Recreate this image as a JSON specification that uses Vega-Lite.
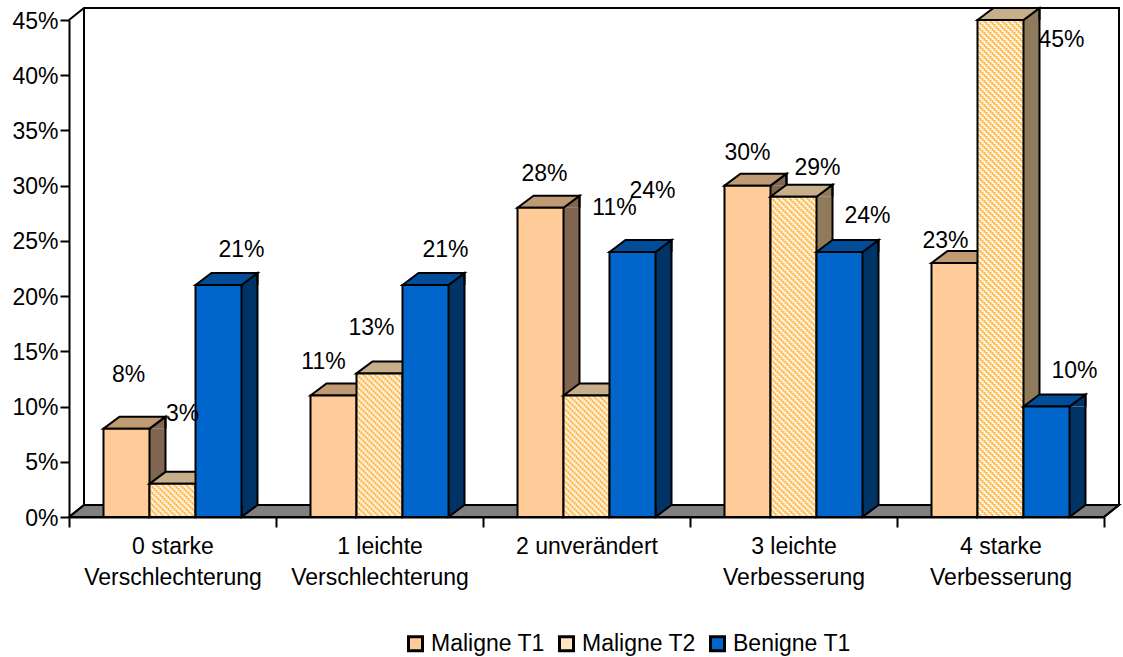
{"$schema":"https://vega.github.io/schema/vega-lite/v6.json","width":1035,"height":497,"autosize":"none","padding":{"left":69,"top":20,"right":19,"bottom":140},"background":"white","config":{"view":{"stroke":null},"font":"Liberation Sans"},
"data":{"values":[
{"cat":"0 starke|Verschlechterung","series":"Maligne T1","value":0.08},{"cat":"0 starke|Verschlechterung","series":"Maligne T2","value":0.03},{"cat":"0 starke|Verschlechterung","series":"Benigne T1","value":0.21},
{"cat":"1 leichte|Verschlechterung","series":"Maligne T1","value":0.11},{"cat":"1 leichte|Verschlechterung","series":"Maligne T2","value":0.13},{"cat":"1 leichte|Verschlechterung","series":"Benigne T1","value":0.21},
{"cat":"2 unverändert","series":"Maligne T1","value":0.28},{"cat":"2 unverändert","series":"Maligne T2","value":0.11},{"cat":"2 unverändert","series":"Benigne T1","value":0.24},
{"cat":"3 leichte|Verbesserung","series":"Maligne T1","value":0.30},{"cat":"3 leichte|Verbesserung","series":"Maligne T2","value":0.29},{"cat":"3 leichte|Verbesserung","series":"Benigne T1","value":0.24},
{"cat":"4 starke|Verbesserung","series":"Maligne T1","value":0.23},{"cat":"4 starke|Verbesserung","series":"Maligne T2","value":0.45},{"cat":"4 starke|Verbesserung","series":"Benigne T1","value":0.10}
]},
"encoding":{
"x":{"field":"cat","type":"nominal","sort":null,"scale":{"paddingInner":0,"paddingOuter":0},"axis":{"title":null,"labelAngle":0,"tickBand":"extent","tickSize":10,"tickWidth":2,"tickColor":"#000","domainColor":"#000","domainWidth":2,"labelFont":"Liberation Sans","labelFontSize":23,"labelColor":"#000","labelPadding":8,"labelLimit":400,"labelLineHeight":31,"labelOverlap":false,"labelExpr":"split(datum.label,'|')"}},
"xOffset":{"field":"series","type":"nominal","sort":null,"scale":{"domain":["Maligne T1","Maligne T2","Benigne T1"],"paddingInner":0,"paddingOuter":0.75}},
"y":{"field":"value","type":"quantitative","scale":{"domain":[0,0.45],"nice":false},"axis":{"title":null,"values":[0,0.05,0.1,0.15,0.2,0.25,0.3,0.35,0.4,0.45],"format":".0%","grid":false,"tickSize":9,"tickWidth":2,"tickColor":"#000","domainColor":"#000","domainWidth":2,"labelFont":"Liberation Sans","labelFontSize":23,"labelColor":"#000","labelPadding":2,"labelOffset":1}}
},
"layer":[
{"transform":[{"filter":"datum.cat=='0 starke|Verschlechterung'&&datum.series=='Maligne T1'"}],"layer":[
{"mark":{"type":"point","shape":"M-57.5,0L-42.5,-12L992.5,-12L977.5,0Z","size":4,"filled":true,"fill":"#808080","stroke":"#000","strokeWidth":2,"opacity":1},"encoding":{"y":{"datum":0}}},
{"mark":{"type":"point","shape":"M-57.5,-497L-42.5,-509L992.5,-509L992.5,-12L977.5,0M-42.5,-509L-42.5,-12L-57.5,0","size":4,"filled":false,"stroke":"#000","strokeWidth":2,"opacity":1},"encoding":{"y":{"datum":0}}}
]},
{"transform":[{"filter":"datum.series=='Maligne T1'"}],"layer":[
{"mark":{"type":"rule","strokeWidth":16,"y2Offset":-12,"stroke":"#806650"},"encoding":{"y2":{"datum":0},"xOffset":null,"x":{"field":"cat","type":"nominal","sort":null,"bandPosition":0.42754}}},
{"mark":{"type":"point","shape":"M23,0L39,-12L39,0","size":4,"filled":true,"fill":"#806650","stroke":"#000","strokeWidth":2,"opacity":1}},
{"mark":{"type":"point","shape":"M23,-12L23,0L39,-12","size":4,"filled":true,"fill":"#806650","stroke":"#000","strokeWidth":2,"opacity":1},"encoding":{"y":{"datum":0}}},
{"mark":{"type":"rule","yOffset":-12,"y2Offset":-12,"stroke":"#000","strokeWidth":2},"encoding":{"y2":{"datum":0},"xOffset":null,"x":{"field":"cat","type":"nominal","sort":null,"bandPosition":0.46618}}},
{"mark":{"type":"point","shape":"M-23,0L-7,-12L39,-12L23,0Z","size":4,"filled":true,"fill":"#C09A73","stroke":"#000","strokeWidth":2,"opacity":1}},
{"mark":{"type":"bar","stroke":"#000","strokeWidth":2},"encoding":{"y2":{"datum":0},"fill":{"field":"series","type":"nominal","scale":{"domain":["Maligne T1","Maligne T2","Benigne T1"],"range":["#FFCC99","#FFE6BF","#0066CC"]},"legend":{"title":null,"orient":"none","legendX":335,"legendY":612,"padding":0,"direction":"horizontal","symbolType":"square","symbolSize":196,"symbolStrokeColor":"#000","symbolStrokeWidth":3,"labelFont":"Liberation Sans","labelFontSize":23,"labelColor":"#000","labelOffset":4,"columnPadding":8,"labelLimit":300}}}}
]},
{"transform":[{"filter":"datum.series=='Maligne T2'"}],"layer":[
{"mark":{"type":"rule","strokeWidth":16,"y2Offset":-12,"stroke":"#8F7A5C"},"encoding":{"y2":{"datum":0},"xOffset":null,"x":{"field":"cat","type":"nominal","sort":null,"bandPosition":0.64976}}},
{"mark":{"type":"point","shape":"M23,0L39,-12L39,0","size":4,"filled":true,"fill":"#8F7A5C","stroke":"#000","strokeWidth":2,"opacity":1}},
{"mark":{"type":"point","shape":"M23,-12L23,0L39,-12","size":4,"filled":true,"fill":"#8F7A5C","stroke":"#000","strokeWidth":2,"opacity":1},"encoding":{"y":{"datum":0}}},
{"mark":{"type":"rule","yOffset":-12,"y2Offset":-12,"stroke":"#000","strokeWidth":2},"encoding":{"y2":{"datum":0},"xOffset":null,"x":{"field":"cat","type":"nominal","sort":null,"bandPosition":0.68841}}},
{"mark":{"type":"point","shape":"M-23,0L-7,-12L39,-12L23,0Z","size":4,"filled":true,"fill":"#C8AF8C","stroke":"#000","strokeWidth":2,"opacity":1}},
{"mark":{"type":"bar","fill":"#FFF9EC"},"encoding":{"y2":{"datum":0}}},
{"encoding":{"y2":{"datum":0},"xOffset":null},"layer":[
{"mark":{"type":"rule","strokeWidth":2,"stroke":"#FFB84D","strokeDash":[3,3],"strokeDashOffset":0},"encoding":{"x":{"field":"cat","type":"nominal","sort":null,"bandPosition":0.39372}}},
{"mark":{"type":"rule","strokeWidth":2,"stroke":"#FFB84D","strokeDash":[3,3],"strokeDashOffset":4},"encoding":{"x":{"field":"cat","type":"nominal","sort":null,"bandPosition":0.40338}}},
{"mark":{"type":"rule","strokeWidth":2,"stroke":"#FFB84D","strokeDash":[3,3],"strokeDashOffset":2},"encoding":{"x":{"field":"cat","type":"nominal","sort":null,"bandPosition":0.41304}}},
{"mark":{"type":"rule","strokeWidth":2,"stroke":"#FFB84D","strokeDash":[3,3],"strokeDashOffset":0},"encoding":{"x":{"field":"cat","type":"nominal","sort":null,"bandPosition":0.42271}}},
{"mark":{"type":"rule","strokeWidth":2,"stroke":"#FFB84D","strokeDash":[3,3],"strokeDashOffset":4},"encoding":{"x":{"field":"cat","type":"nominal","sort":null,"bandPosition":0.43237}}},
{"mark":{"type":"rule","strokeWidth":2,"stroke":"#FFB84D","strokeDash":[3,3],"strokeDashOffset":2},"encoding":{"x":{"field":"cat","type":"nominal","sort":null,"bandPosition":0.44203}}},
{"mark":{"type":"rule","strokeWidth":2,"stroke":"#FFB84D","strokeDash":[3,3],"strokeDashOffset":0},"encoding":{"x":{"field":"cat","type":"nominal","sort":null,"bandPosition":0.45169}}},
{"mark":{"type":"rule","strokeWidth":2,"stroke":"#FFB84D","strokeDash":[3,3],"strokeDashOffset":4},"encoding":{"x":{"field":"cat","type":"nominal","sort":null,"bandPosition":0.46135}}},
{"mark":{"type":"rule","strokeWidth":2,"stroke":"#FFB84D","strokeDash":[3,3],"strokeDashOffset":2},"encoding":{"x":{"field":"cat","type":"nominal","sort":null,"bandPosition":0.47101}}},
{"mark":{"type":"rule","strokeWidth":2,"stroke":"#FFB84D","strokeDash":[3,3],"strokeDashOffset":0},"encoding":{"x":{"field":"cat","type":"nominal","sort":null,"bandPosition":0.48068}}},
{"mark":{"type":"rule","strokeWidth":2,"stroke":"#FFB84D","strokeDash":[3,3],"strokeDashOffset":4},"encoding":{"x":{"field":"cat","type":"nominal","sort":null,"bandPosition":0.49034}}},
{"mark":{"type":"rule","strokeWidth":2,"stroke":"#FFB84D","strokeDash":[3,3],"strokeDashOffset":2},"encoding":{"x":{"field":"cat","type":"nominal","sort":null,"bandPosition":0.5}}},
{"mark":{"type":"rule","strokeWidth":2,"stroke":"#FFB84D","strokeDash":[3,3],"strokeDashOffset":0},"encoding":{"x":{"field":"cat","type":"nominal","sort":null,"bandPosition":0.50966}}},
{"mark":{"type":"rule","strokeWidth":2,"stroke":"#FFB84D","strokeDash":[3,3],"strokeDashOffset":4},"encoding":{"x":{"field":"cat","type":"nominal","sort":null,"bandPosition":0.51932}}},
{"mark":{"type":"rule","strokeWidth":2,"stroke":"#FFB84D","strokeDash":[3,3],"strokeDashOffset":2},"encoding":{"x":{"field":"cat","type":"nominal","sort":null,"bandPosition":0.52899}}},
{"mark":{"type":"rule","strokeWidth":2,"stroke":"#FFB84D","strokeDash":[3,3],"strokeDashOffset":0},"encoding":{"x":{"field":"cat","type":"nominal","sort":null,"bandPosition":0.53865}}},
{"mark":{"type":"rule","strokeWidth":2,"stroke":"#FFB84D","strokeDash":[3,3],"strokeDashOffset":4},"encoding":{"x":{"field":"cat","type":"nominal","sort":null,"bandPosition":0.54831}}},
{"mark":{"type":"rule","strokeWidth":2,"stroke":"#FFB84D","strokeDash":[3,3],"strokeDashOffset":2},"encoding":{"x":{"field":"cat","type":"nominal","sort":null,"bandPosition":0.55797}}},
{"mark":{"type":"rule","strokeWidth":2,"stroke":"#FFB84D","strokeDash":[3,3],"strokeDashOffset":0},"encoding":{"x":{"field":"cat","type":"nominal","sort":null,"bandPosition":0.56763}}},
{"mark":{"type":"rule","strokeWidth":2,"stroke":"#FFB84D","strokeDash":[3,3],"strokeDashOffset":4},"encoding":{"x":{"field":"cat","type":"nominal","sort":null,"bandPosition":0.57729}}},
{"mark":{"type":"rule","strokeWidth":2,"stroke":"#FFB84D","strokeDash":[3,3],"strokeDashOffset":2},"encoding":{"x":{"field":"cat","type":"nominal","sort":null,"bandPosition":0.58696}}},
{"mark":{"type":"rule","strokeWidth":2,"stroke":"#FFB84D","strokeDash":[3,3],"strokeDashOffset":0},"encoding":{"x":{"field":"cat","type":"nominal","sort":null,"bandPosition":0.59662}}},
{"mark":{"type":"rule","strokeWidth":2,"stroke":"#FFB84D","strokeDash":[3,3],"strokeDashOffset":4},"encoding":{"x":{"field":"cat","type":"nominal","sort":null,"bandPosition":0.60628}}}
]},
{"mark":{"type":"bar","fill":"transparent","stroke":"#000","strokeWidth":2},"encoding":{"y2":{"datum":0}}}
]},
{"transform":[{"filter":"datum.series=='Benigne T1'"}],"layer":[
{"mark":{"type":"rule","strokeWidth":16,"y2Offset":-12,"stroke":"#003366"},"encoding":{"y2":{"datum":0},"xOffset":null,"x":{"field":"cat","type":"nominal","sort":null,"bandPosition":0.87198}}},
{"mark":{"type":"point","shape":"M23,0L39,-12L39,0","size":4,"filled":true,"fill":"#003366","stroke":"#000","strokeWidth":2,"opacity":1}},
{"mark":{"type":"point","shape":"M23,-12L23,0L39,-12","size":4,"filled":true,"fill":"#003366","stroke":"#000","strokeWidth":2,"opacity":1},"encoding":{"y":{"datum":0}}},
{"mark":{"type":"rule","yOffset":-12,"y2Offset":-12,"stroke":"#000","strokeWidth":2},"encoding":{"y2":{"datum":0},"xOffset":null,"x":{"field":"cat","type":"nominal","sort":null,"bandPosition":0.91063}}},
{"mark":{"type":"point","shape":"M-23,0L-7,-12L39,-12L23,0Z","size":4,"filled":true,"fill":"#004D99","stroke":"#000","strokeWidth":2,"opacity":1}},
{"mark":{"type":"bar","fill":"#0066CC","stroke":"#000","strokeWidth":2},"encoding":{"y2":{"datum":0}}}
]},
{"transform":[{"filter":"datum.cat=='0 starke|Verschlechterung'&&datum.series=='Maligne T1'"}],"mark":{"type":"text","dx":2,"dy":-54,"font":"Liberation Sans","fontSize":23,"color":"#000"},"encoding":{"text":{"field":"value","format":".0%"}}},
{"transform":[{"filter":"datum.cat=='0 starke|Verschlechterung'&&datum.series=='Maligne T2'"}],"mark":{"type":"text","dx":10,"dy":-70,"font":"Liberation Sans","fontSize":23,"color":"#000"},"encoding":{"text":{"field":"value","format":".0%"}}},
{"transform":[{"filter":"datum.cat=='0 starke|Verschlechterung'&&datum.series=='Benigne T1'"}],"mark":{"type":"text","dx":23,"dy":-35,"font":"Liberation Sans","fontSize":23,"color":"#000"},"encoding":{"text":{"field":"value","format":".0%"}}},
{"transform":[{"filter":"datum.cat=='1 leichte|Verschlechterung'&&datum.series=='Maligne T1'"}],"mark":{"type":"text","dx":-10,"dy":-34,"font":"Liberation Sans","fontSize":23,"color":"#000"},"encoding":{"text":{"field":"value","format":".0%"}}},
{"transform":[{"filter":"datum.cat=='1 leichte|Verschlechterung'&&datum.series=='Maligne T2'"}],"mark":{"type":"text","dx":-8,"dy":-45,"font":"Liberation Sans","fontSize":23,"color":"#000"},"encoding":{"text":{"field":"value","format":".0%"}}},
{"transform":[{"filter":"datum.cat=='1 leichte|Verschlechterung'&&datum.series=='Benigne T1'"}],"mark":{"type":"text","dx":20,"dy":-35,"font":"Liberation Sans","fontSize":23,"color":"#000"},"encoding":{"text":{"field":"value","format":".0%"}}},
{"transform":[{"filter":"datum.cat=='2 unverändert'&&datum.series=='Maligne T1'"}],"mark":{"type":"text","dx":4,"dy":-34,"font":"Liberation Sans","fontSize":23,"color":"#000"},"encoding":{"text":{"field":"value","format":".0%"}}},
{"transform":[{"filter":"datum.cat=='2 unverändert'&&datum.series=='Maligne T2'"}],"mark":{"type":"text","dx":28,"dy":-188,"font":"Liberation Sans","fontSize":23,"color":"#000"},"encoding":{"text":{"field":"value","format":".0%"}}},
{"transform":[{"filter":"datum.cat=='2 unverändert'&&datum.series=='Benigne T1'"}],"mark":{"type":"text","dx":20,"dy":-61,"font":"Liberation Sans","fontSize":23,"color":"#000"},"encoding":{"text":{"field":"value","format":".0%"}}},
{"transform":[{"filter":"datum.cat=='3 leichte|Verbesserung'&&datum.series=='Maligne T1'"}],"mark":{"type":"text","dx":0,"dy":-33,"font":"Liberation Sans","fontSize":23,"color":"#000"},"encoding":{"text":{"field":"value","format":".0%"}}},
{"transform":[{"filter":"datum.cat=='3 leichte|Verbesserung'&&datum.series=='Maligne T2'"}],"mark":{"type":"text","dx":24,"dy":-29,"font":"Liberation Sans","fontSize":23,"color":"#000"},"encoding":{"text":{"field":"value","format":".0%"}}},
{"transform":[{"filter":"datum.cat=='3 leichte|Verbesserung'&&datum.series=='Benigne T1'"}],"mark":{"type":"text","dx":28,"dy":-36,"font":"Liberation Sans","fontSize":23,"color":"#000"},"encoding":{"text":{"field":"value","format":".0%"}}},
{"transform":[{"filter":"datum.cat=='4 starke|Verbesserung'&&datum.series=='Maligne T1'"}],"mark":{"type":"text","dx":-9,"dy":-22,"font":"Liberation Sans","fontSize":23,"color":"#000"},"encoding":{"text":{"field":"value","format":".0%"}}},
{"transform":[{"filter":"datum.cat=='4 starke|Verbesserung'&&datum.series=='Maligne T2'"}],"mark":{"type":"text","dx":61,"dy":20,"font":"Liberation Sans","fontSize":23,"color":"#000"},"encoding":{"text":{"field":"value","format":".0%"}}},
{"transform":[{"filter":"datum.cat=='4 starke|Verbesserung'&&datum.series=='Benigne T1'"}],"mark":{"type":"text","dx":28,"dy":-36,"font":"Liberation Sans","fontSize":23,"color":"#000"},"encoding":{"text":{"field":"value","format":".0%"}}}
]}
